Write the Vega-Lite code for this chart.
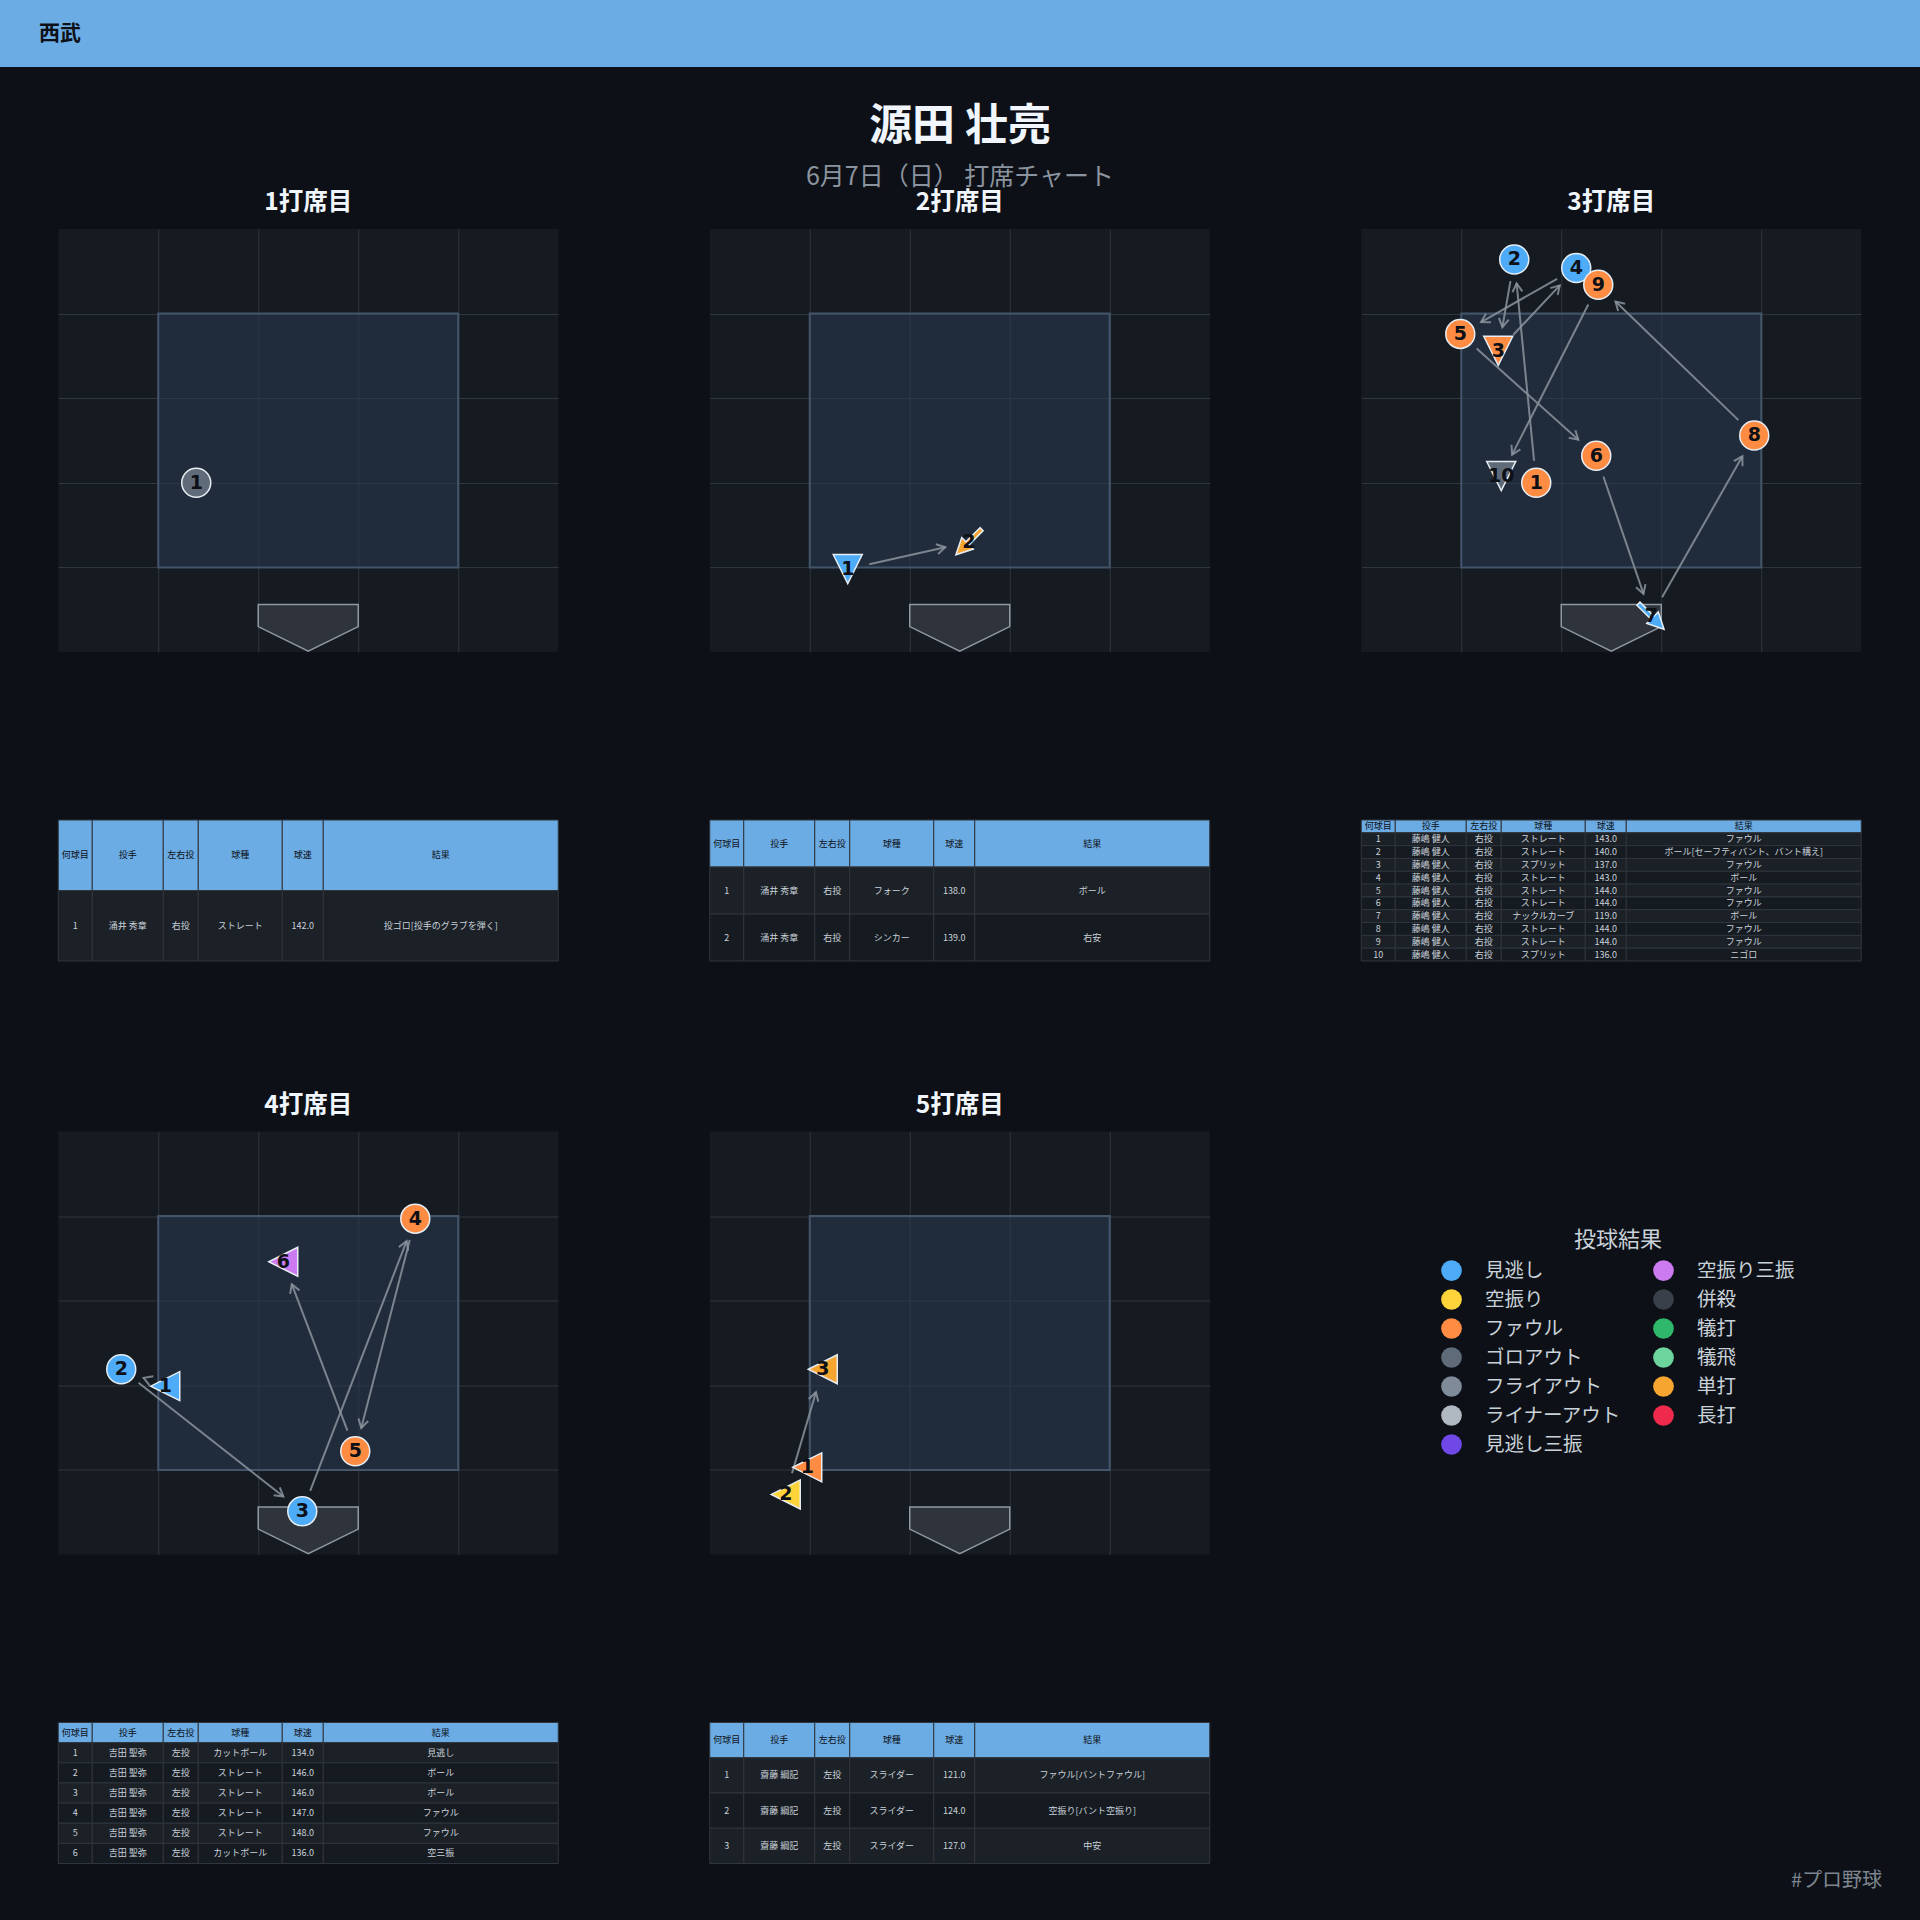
{
"$schema":"https://vega.github.io/schema/vega-lite/v6.json",
"background":"#0d1117",
"padding":0,
"spacing":0,
"center":true,
"config":{
 "font":"Noto Sans CJK JP",
 "view":{"stroke":null},
 "axis":{"labels":false,"ticks":false,"domain":false,"grid":true,"gridColor":"#30363d","gridWidth":1},
 "title":{"font":"Noto Sans CJK JP","fontSize":24.5,"fontWeight":"bold","color":"#f0f6fc","offset":13.5,"anchor":"middle"},
 "legend":{"symbolType":"circle","symbolSize":430,"symbolStrokeWidth":0,"symbolOpacity":1,"labelFont":"Noto Sans CJK JP","labelFontSize":19.5,"labelColor":"#c9d1d9","labelOffset":23,"titleFont":"Noto Sans CJK JP","titleFontSize":22,"titleFontWeight":"normal","titleColor":"#c9d1d9","titleAnchor":"middle","titlePadding":8,"rowPadding":8,"columnPadding":31,"padding":0,"labelLimit":300}
},
"datasets":{
 "plate":[{"px":2,"top":0.56,"bot":0.3},{"px":2.5,"top":0.56,"bot":0.01},{"px":3,"top":0.56,"bot":0.3}],
 "ab1":[{"n":1,"x":1.38,"y":2.0,"result":"ゴロアウト","pitch":"ストレート"}],
 "ab2":[{"n":1,"x":1.38,"y":0.98,"result":"ボール","pitch":"フォーク"},{"n":2,"x":2.59,"y":1.3,"result":"単打","pitch":"シンカー"}],
 "ab3":[
  {"n":1,"x":1.75,"y":2.0,"result":"ファウル","pitch":"ストレート"},
  {"n":2,"x":1.53,"y":4.64,"result":"ボール","pitch":"ストレート"},
  {"n":3,"x":1.37,"y":3.56,"result":"ファウル","pitch":"スプリット"},
  {"n":4,"x":2.15,"y":4.54,"result":"ボール","pitch":"ストレート"},
  {"n":5,"x":0.99,"y":3.76,"result":"ファウル","pitch":"ストレート"},
  {"n":6,"x":2.35,"y":2.32,"result":"ファウル","pitch":"ストレート"},
  {"n":7,"x":2.9,"y":0.42,"result":"ボール","pitch":"ナックルカーブ"},
  {"n":8,"x":3.93,"y":2.56,"result":"ファウル","pitch":"ストレート"},
  {"n":9,"x":2.37,"y":4.34,"result":"ファウル","pitch":"ストレート"},
  {"n":10,"x":1.4,"y":2.08,"result":"ゴロアウト","pitch":"スプリット"}],
 "ab4":[
  {"n":1,"x":1.07,"y":1.99,"result":"見逃し","pitch":"カットボール"},
  {"n":2,"x":0.63,"y":2.19,"result":"ボール","pitch":"ストレート"},
  {"n":3,"x":2.44,"y":0.51,"result":"ボール","pitch":"ストレート"},
  {"n":4,"x":3.57,"y":3.97,"result":"ファウル","pitch":"ストレート"},
  {"n":5,"x":2.97,"y":1.22,"result":"ファウル","pitch":"ストレート"},
  {"n":6,"x":2.25,"y":3.46,"result":"空振り三振","pitch":"カットボール"}],
 "ab5":[
  {"n":1,"x":0.975,"y":1.03,"result":"ファウル","pitch":"スライダー"},
  {"n":2,"x":0.76,"y":0.71,"result":"空振り","pitch":"スライダー"},
  {"n":3,"x":1.13,"y":2.19,"result":"単打","pitch":"スライダー"}],
 "t1":[
  {"r":0,"no":"何球目","pitcher":"投手","hand":"左右投","type":"球種","speed":"球速","result":"結果"},
  {"r":1,"no":"1","pitcher":"涌井 秀章","hand":"右投","type":"ストレート","speed":"142.0","result":"投ゴロ[投手のグラブを弾く]"}],
 "t2":[
  {"r":0,"no":"何球目","pitcher":"投手","hand":"左右投","type":"球種","speed":"球速","result":"結果"},
  {"r":1,"no":"1","pitcher":"涌井 秀章","hand":"右投","type":"フォーク","speed":"138.0","result":"ボール"},
  {"r":2,"no":"2","pitcher":"涌井 秀章","hand":"右投","type":"シンカー","speed":"139.0","result":"右安"}],
 "t3":[
  {"r":0,"no":"何球目","pitcher":"投手","hand":"左右投","type":"球種","speed":"球速","result":"結果"},
  {"r":1,"no":"1","pitcher":"藤嶋 健人","hand":"右投","type":"ストレート","speed":"143.0","result":"ファウル"},
  {"r":2,"no":"2","pitcher":"藤嶋 健人","hand":"右投","type":"ストレート","speed":"140.0","result":"ボール[セーフティバント、バント構え]"},
  {"r":3,"no":"3","pitcher":"藤嶋 健人","hand":"右投","type":"スプリット","speed":"137.0","result":"ファウル"},
  {"r":4,"no":"4","pitcher":"藤嶋 健人","hand":"右投","type":"ストレート","speed":"143.0","result":"ボール"},
  {"r":5,"no":"5","pitcher":"藤嶋 健人","hand":"右投","type":"ストレート","speed":"144.0","result":"ファウル"},
  {"r":6,"no":"6","pitcher":"藤嶋 健人","hand":"右投","type":"ストレート","speed":"144.0","result":"ファウル"},
  {"r":7,"no":"7","pitcher":"藤嶋 健人","hand":"右投","type":"ナックルカーブ","speed":"119.0","result":"ボール"},
  {"r":8,"no":"8","pitcher":"藤嶋 健人","hand":"右投","type":"ストレート","speed":"144.0","result":"ファウル"},
  {"r":9,"no":"9","pitcher":"藤嶋 健人","hand":"右投","type":"ストレート","speed":"144.0","result":"ファウル"},
  {"r":10,"no":"10","pitcher":"藤嶋 健人","hand":"右投","type":"スプリット","speed":"136.0","result":"ニゴロ"}],
 "t4":[
  {"r":0,"no":"何球目","pitcher":"投手","hand":"左右投","type":"球種","speed":"球速","result":"結果"},
  {"r":1,"no":"1","pitcher":"吉田 聖弥","hand":"左投","type":"カットボール","speed":"134.0","result":"見逃し"},
  {"r":2,"no":"2","pitcher":"吉田 聖弥","hand":"左投","type":"ストレート","speed":"146.0","result":"ボール"},
  {"r":3,"no":"3","pitcher":"吉田 聖弥","hand":"左投","type":"ストレート","speed":"146.0","result":"ボール"},
  {"r":4,"no":"4","pitcher":"吉田 聖弥","hand":"左投","type":"ストレート","speed":"147.0","result":"ファウル"},
  {"r":5,"no":"5","pitcher":"吉田 聖弥","hand":"左投","type":"ストレート","speed":"148.0","result":"ファウル"},
  {"r":6,"no":"6","pitcher":"吉田 聖弥","hand":"左投","type":"カットボール","speed":"136.0","result":"空三振"}],
 "t5":[
  {"r":0,"no":"何球目","pitcher":"投手","hand":"左右投","type":"球種","speed":"球速","result":"結果"},
  {"r":1,"no":"1","pitcher":"齋藤 綱記","hand":"左投","type":"スライダー","speed":"121.0","result":"ファウル[バントファウル]"},
  {"r":2,"no":"2","pitcher":"齋藤 綱記","hand":"左投","type":"スライダー","speed":"124.0","result":"空振り[バント空振り]"},
  {"r":3,"no":"3","pitcher":"齋藤 綱記","hand":"左投","type":"スライダー","speed":"127.0","result":"中安"}]
},
"vconcat":[
 {"width":1920,"height":67,"view":{"fill":"#6cace4"},"title":{"text":"西武","anchor":"start","orient":"top","offset":-44,"dx":39,"fontSize":21,"fontWeight":"bold","color":"#0d1117"},"data":{"values":[{}]},"mark":{"type":"text"},"encoding":{"text":{"value":""}}},
 {"width":1920,"height":123,"title":{"text":"源田 壮亮","subtitle":"6月7日（日） 打席チャート","anchor":"middle","orient":"top","offset":-123,"fontSize":43,"fontWeight":"bold","color":"#f0f6fc","subtitleFont":"Noto Sans CJK JP","subtitleFontSize":25,"subtitleColor":"#8b949e","subtitlePadding":16},"data":{"values":[{}]},"mark":{"type":"text"},"encoding":{"text":{"value":""}}},
 {"vconcat":[
  {"hconcat":[
   {"vconcat":[
    {"width":500,"height":423,"view":{"fill":"#161b22"},"title":"1打席目","layer":[
     {"data":{"values":[{}]},"mark":{"type":"rect","fill":"#2a3b52","fillOpacity":0.55,"stroke":"#42556b","strokeWidth":2},"encoding":{"x":{"datum":1,"type":"quantitative","scale":{"domain":[0,5],"nice":false,"zero":false},"axis":{"values":[1,2,3,4],"title":null}},"x2":{"datum":4},"y":{"datum":1,"type":"quantitative","scale":{"domain":[0,5],"nice":false,"zero":false},"axis":{"values":[1,2,3,4],"title":null}},"y2":{"datum":4}}},
     {"data":{"name":"plate"},"mark":{"type":"area","fill":"#2f343c","stroke":"#9198a1","strokeWidth":1.5},"encoding":{"x":{"field":"px","type":"quantitative","scale":{"domain":[0,5],"nice":false,"zero":false},"axis":{"values":[1,2,3,4],"title":null}},"y":{"field":"top","type":"quantitative","scale":{"domain":[0,5],"nice":false,"zero":false},"axis":{"values":[1,2,3,4],"title":null}},"y2":{"field":"bot"}}},
     {"data":{"name":"ab1"},"mark":{"type":"point","filled":true,"size":840,"stroke":"#e6edf3","strokeWidth":1.5,"opacity":1},"encoding":{"x":{"field":"x","type":"quantitative","scale":{"domain":[0,5],"nice":false,"zero":false},"axis":{"values":[1,2,3,4],"title":null}},"y":{"field":"y","type":"quantitative","scale":{"domain":[0,5],"nice":false,"zero":false},"axis":{"values":[1,2,3,4],"title":null}},"color":{"field":"result","type":"nominal","scale":{"domain":["見逃し","空振り","ファウル","ゴロアウト","フライアウト","ライナーアウト","見逃し三振","空振り三振","併殺","犠打","犠飛","単打","長打","ボール"],"range":["#4dabf7","#ffd43b","#ff8c42","#5f6b78","#7f8b98","#b0b8c2","#7048e8","#cc7af0","#3a404a","#2fb86b","#6ed49e","#f7a531","#f02a4c","#4dabf7"]},"legend":{"values":["見逃し","空振り","ファウル","ゴロアウト","フライアウト","ライナーアウト","見逃し三振","空振り三振","併殺","犠打","犠飛","単打","長打"],"orient":"none","legendX":1441,"legendY":1230,"columns":2,"title":"投球結果"}},"shape":{"field":"pitch","type":"nominal","scale":{"domain":["ストレート","スプリット","フォーク","カットボール","スライダー","ナックルカーブ","シンカー"],"range":["circle","M-1,-1L1,-1L0,1Z","M-1,-1L1,-1L0,1Z","M1,-1L1,1L-1,0Z","M1,-1L1,1L-1,0Z","M-0.78,-0.99L0.195,-0.018L0.486,-0.309L0.884,0.884L-0.309,0.486L-0.018,0.195L-0.99,-0.78Z","M0.78,-0.99L-0.195,-0.018L-0.486,-0.309L-0.884,0.884L0.309,0.486L0.018,0.195L0.99,-0.78Z"]},"legend":null}}},
     {"data":{"name":"ab1"},"mark":{"type":"text","font":"DejaVu Sans","fontSize":19,"fontWeight":"bold","color":"#0d1117"},"encoding":{"x":{"field":"x","type":"quantitative","scale":{"domain":[0,5],"nice":false,"zero":false},"axis":{"values":[1,2,3,4],"title":null}},"y":{"field":"y","type":"quantitative","scale":{"domain":[0,5],"nice":false,"zero":false},"axis":{"values":[1,2,3,4],"title":null}},"text":{"field":"n","type":"nominal"}}}
    ]},
    {"hconcat":[
     {"width":34,"height":141,"data":{"name":"t1"},"encoding":{"y":{"field":"r","type":"ordinal","axis":null,"scale":{"paddingInner":0,"paddingOuter":0}}},"layer":[{"mark":{"type":"rect","stroke":"#30363d","strokeWidth":1},"encoding":{"fill":{"condition":[{"test":"datum.r == 0","value":"#6cace4"},{"test":"datum.r % 2 == 1","value":"#1c2128"}],"value":"#161b22"}}},{"mark":{"type":"text","fontSize":9},"encoding":{"text":{"field":"no","type":"nominal"},"color":{"condition":{"test":"datum.r == 0","value":"#0d1117"},"value":"#c9d1d9"}}}]},
     {"width":71,"height":141,"data":{"name":"t1"},"encoding":{"y":{"field":"r","type":"ordinal","axis":null,"scale":{"paddingInner":0,"paddingOuter":0}}},"layer":[{"mark":{"type":"rect","stroke":"#30363d","strokeWidth":1},"encoding":{"fill":{"condition":[{"test":"datum.r == 0","value":"#6cace4"},{"test":"datum.r % 2 == 1","value":"#1c2128"}],"value":"#161b22"}}},{"mark":{"type":"text","fontSize":9},"encoding":{"text":{"field":"pitcher","type":"nominal"},"color":{"condition":{"test":"datum.r == 0","value":"#0d1117"},"value":"#c9d1d9"}}}]},
     {"width":35,"height":141,"data":{"name":"t1"},"encoding":{"y":{"field":"r","type":"ordinal","axis":null,"scale":{"paddingInner":0,"paddingOuter":0}}},"layer":[{"mark":{"type":"rect","stroke":"#30363d","strokeWidth":1},"encoding":{"fill":{"condition":[{"test":"datum.r == 0","value":"#6cace4"},{"test":"datum.r % 2 == 1","value":"#1c2128"}],"value":"#161b22"}}},{"mark":{"type":"text","fontSize":9},"encoding":{"text":{"field":"hand","type":"nominal"},"color":{"condition":{"test":"datum.r == 0","value":"#0d1117"},"value":"#c9d1d9"}}}]},
     {"width":84,"height":141,"data":{"name":"t1"},"encoding":{"y":{"field":"r","type":"ordinal","axis":null,"scale":{"paddingInner":0,"paddingOuter":0}}},"layer":[{"mark":{"type":"rect","stroke":"#30363d","strokeWidth":1},"encoding":{"fill":{"condition":[{"test":"datum.r == 0","value":"#6cace4"},{"test":"datum.r % 2 == 1","value":"#1c2128"}],"value":"#161b22"}}},{"mark":{"type":"text","fontSize":9},"encoding":{"text":{"field":"type","type":"nominal"},"color":{"condition":{"test":"datum.r == 0","value":"#0d1117"},"value":"#c9d1d9"}}}]},
     {"width":41,"height":141,"data":{"name":"t1"},"encoding":{"y":{"field":"r","type":"ordinal","axis":null,"scale":{"paddingInner":0,"paddingOuter":0}}},"layer":[{"mark":{"type":"rect","stroke":"#30363d","strokeWidth":1},"encoding":{"fill":{"condition":[{"test":"datum.r == 0","value":"#6cace4"},{"test":"datum.r % 2 == 1","value":"#1c2128"}],"value":"#161b22"}}},{"mark":{"type":"text","fontSize":9},"encoding":{"text":{"field":"speed","type":"nominal"},"color":{"condition":{"test":"datum.r == 0","value":"#0d1117"},"value":"#c9d1d9"}}}]},
     {"width":235,"height":141,"data":{"name":"t1"},"encoding":{"y":{"field":"r","type":"ordinal","axis":null,"scale":{"paddingInner":0,"paddingOuter":0}}},"layer":[{"mark":{"type":"rect","stroke":"#30363d","strokeWidth":1},"encoding":{"fill":{"condition":[{"test":"datum.r == 0","value":"#6cace4"},{"test":"datum.r % 2 == 1","value":"#1c2128"}],"value":"#161b22"}}},{"mark":{"type":"text","fontSize":9},"encoding":{"text":{"field":"result","type":"nominal"},"color":{"condition":{"test":"datum.r == 0","value":"#0d1117"},"value":"#c9d1d9"}}}]}
    ],"spacing":0,"bounds":"flush"}
   ],"spacing":164},
   {"vconcat":[
    {"width":500,"height":423,"view":{"fill":"#161b22"},"title":"2打席目","layer":[
     {"data":{"values":[{}]},"mark":{"type":"rect","fill":"#2a3b52","fillOpacity":0.55,"stroke":"#42556b","strokeWidth":2},"encoding":{"x":{"datum":1,"type":"quantitative","scale":{"domain":[0,5],"nice":false,"zero":false},"axis":{"values":[1,2,3,4],"title":null}},"x2":{"datum":4},"y":{"datum":1,"type":"quantitative","scale":{"domain":[0,5],"nice":false,"zero":false},"axis":{"values":[1,2,3,4],"title":null}},"y2":{"datum":4}}},
     {"data":{"name":"plate"},"mark":{"type":"area","fill":"#2f343c","stroke":"#9198a1","strokeWidth":1.5},"encoding":{"x":{"field":"px","type":"quantitative","scale":{"domain":[0,5],"nice":false,"zero":false},"axis":{"values":[1,2,3,4],"title":null}},"y":{"field":"top","type":"quantitative","scale":{"domain":[0,5],"nice":false,"zero":false},"axis":{"values":[1,2,3,4],"title":null}},"y2":{"field":"bot"}}},
     {"data":{"name":"ab2"},"transform":[{"window":[{"op":"lead","field":"x","as":"nx"},{"op":"lead","field":"y","as":"ny"}],"sort":[{"field":"n","order":"ascending"}]},{"filter":"datum.nx != null"},{"calculate":"(datum.nx - datum.x) * 100","as":"dxp"},{"calculate":"(datum.ny - datum.y) * 84.6","as":"dyp"},{"calculate":"sqrt(datum.dxp * datum.dxp + datum.dyp * datum.dyp)","as":"len"},{"filter":"datum.len > 46"},{"calculate":"datum.x + datum.dxp / datum.len * 0.22","as":"xs"},{"calculate":"datum.y + datum.dyp / datum.len * 0.26","as":"ys"},{"calculate":"datum.nx - datum.dxp / datum.len * 0.24","as":"xe"},{"calculate":"datum.ny - datum.dyp / datum.len * 0.2837","as":"ye"},{"calculate":"atan2(datum.dxp, datum.dyp) * 180 / PI","as":"ang"}],"layer":[
      {"mark":{"type":"rule","color":"#8b949e","strokeWidth":2,"opacity":0.85},"encoding":{"x":{"field":"xs","type":"quantitative","scale":{"domain":[0,5],"nice":false,"zero":false},"axis":{"values":[1,2,3,4],"title":null}},"y":{"field":"ys","type":"quantitative","scale":{"domain":[0,5],"nice":false,"zero":false},"axis":{"values":[1,2,3,4],"title":null}},"x2":{"field":"xe"},"y2":{"field":"ye"}}},
      {"mark":{"type":"point","shape":"M-0.5,0.85L0,0L0.5,0.85","filled":false,"size":400,"color":"#8b949e","strokeWidth":2,"opacity":0.85},"encoding":{"x":{"field":"xe","type":"quantitative","scale":{"domain":[0,5],"nice":false,"zero":false},"axis":{"values":[1,2,3,4],"title":null}},"y":{"field":"ye","type":"quantitative","scale":{"domain":[0,5],"nice":false,"zero":false},"axis":{"values":[1,2,3,4],"title":null}},"angle":{"field":"ang","type":"quantitative","scale":null}}}
     ]},
     {"data":{"name":"ab2"},"mark":{"type":"point","filled":true,"size":840,"stroke":"#e6edf3","strokeWidth":1.5,"opacity":1},"encoding":{"x":{"field":"x","type":"quantitative","scale":{"domain":[0,5],"nice":false,"zero":false},"axis":{"values":[1,2,3,4],"title":null}},"y":{"field":"y","type":"quantitative","scale":{"domain":[0,5],"nice":false,"zero":false},"axis":{"values":[1,2,3,4],"title":null}},"color":{"field":"result","type":"nominal","scale":{"domain":["見逃し","空振り","ファウル","ゴロアウト","フライアウト","ライナーアウト","見逃し三振","空振り三振","併殺","犠打","犠飛","単打","長打","ボール"],"range":["#4dabf7","#ffd43b","#ff8c42","#5f6b78","#7f8b98","#b0b8c2","#7048e8","#cc7af0","#3a404a","#2fb86b","#6ed49e","#f7a531","#f02a4c","#4dabf7"]},"legend":{"values":["見逃し","空振り","ファウル","ゴロアウト","フライアウト","ライナーアウト","見逃し三振","空振り三振","併殺","犠打","犠飛","単打","長打"],"orient":"none","legendX":1441,"legendY":1230,"columns":2,"title":"投球結果"}},"shape":{"field":"pitch","type":"nominal","scale":{"domain":["ストレート","スプリット","フォーク","カットボール","スライダー","ナックルカーブ","シンカー"],"range":["circle","M-1,-1L1,-1L0,1Z","M-1,-1L1,-1L0,1Z","M1,-1L1,1L-1,0Z","M1,-1L1,1L-1,0Z","M-0.78,-0.99L0.195,-0.018L0.486,-0.309L0.884,0.884L-0.309,0.486L-0.018,0.195L-0.99,-0.78Z","M0.78,-0.99L-0.195,-0.018L-0.486,-0.309L-0.884,0.884L0.309,0.486L0.018,0.195L0.99,-0.78Z"]},"legend":null}}},
     {"data":{"name":"ab2"},"mark":{"type":"text","font":"DejaVu Sans","fontSize":19,"fontWeight":"bold","color":"#0d1117"},"encoding":{"x":{"field":"x","type":"quantitative","scale":{"domain":[0,5],"nice":false,"zero":false},"axis":{"values":[1,2,3,4],"title":null}},"y":{"field":"y","type":"quantitative","scale":{"domain":[0,5],"nice":false,"zero":false},"axis":{"values":[1,2,3,4],"title":null}},"text":{"field":"n","type":"nominal"}}}
    ]},
    {"hconcat":[
     {"width":34,"height":141,"data":{"name":"t2"},"encoding":{"y":{"field":"r","type":"ordinal","axis":null,"scale":{"paddingInner":0,"paddingOuter":0}}},"layer":[{"mark":{"type":"rect","stroke":"#30363d","strokeWidth":1},"encoding":{"fill":{"condition":[{"test":"datum.r == 0","value":"#6cace4"},{"test":"datum.r % 2 == 1","value":"#1c2128"}],"value":"#161b22"}}},{"mark":{"type":"text","fontSize":9},"encoding":{"text":{"field":"no","type":"nominal"},"color":{"condition":{"test":"datum.r == 0","value":"#0d1117"},"value":"#c9d1d9"}}}]},
     {"width":71,"height":141,"data":{"name":"t2"},"encoding":{"y":{"field":"r","type":"ordinal","axis":null,"scale":{"paddingInner":0,"paddingOuter":0}}},"layer":[{"mark":{"type":"rect","stroke":"#30363d","strokeWidth":1},"encoding":{"fill":{"condition":[{"test":"datum.r == 0","value":"#6cace4"},{"test":"datum.r % 2 == 1","value":"#1c2128"}],"value":"#161b22"}}},{"mark":{"type":"text","fontSize":9},"encoding":{"text":{"field":"pitcher","type":"nominal"},"color":{"condition":{"test":"datum.r == 0","value":"#0d1117"},"value":"#c9d1d9"}}}]},
     {"width":35,"height":141,"data":{"name":"t2"},"encoding":{"y":{"field":"r","type":"ordinal","axis":null,"scale":{"paddingInner":0,"paddingOuter":0}}},"layer":[{"mark":{"type":"rect","stroke":"#30363d","strokeWidth":1},"encoding":{"fill":{"condition":[{"test":"datum.r == 0","value":"#6cace4"},{"test":"datum.r % 2 == 1","value":"#1c2128"}],"value":"#161b22"}}},{"mark":{"type":"text","fontSize":9},"encoding":{"text":{"field":"hand","type":"nominal"},"color":{"condition":{"test":"datum.r == 0","value":"#0d1117"},"value":"#c9d1d9"}}}]},
     {"width":84,"height":141,"data":{"name":"t2"},"encoding":{"y":{"field":"r","type":"ordinal","axis":null,"scale":{"paddingInner":0,"paddingOuter":0}}},"layer":[{"mark":{"type":"rect","stroke":"#30363d","strokeWidth":1},"encoding":{"fill":{"condition":[{"test":"datum.r == 0","value":"#6cace4"},{"test":"datum.r % 2 == 1","value":"#1c2128"}],"value":"#161b22"}}},{"mark":{"type":"text","fontSize":9},"encoding":{"text":{"field":"type","type":"nominal"},"color":{"condition":{"test":"datum.r == 0","value":"#0d1117"},"value":"#c9d1d9"}}}]},
     {"width":41,"height":141,"data":{"name":"t2"},"encoding":{"y":{"field":"r","type":"ordinal","axis":null,"scale":{"paddingInner":0,"paddingOuter":0}}},"layer":[{"mark":{"type":"rect","stroke":"#30363d","strokeWidth":1},"encoding":{"fill":{"condition":[{"test":"datum.r == 0","value":"#6cace4"},{"test":"datum.r % 2 == 1","value":"#1c2128"}],"value":"#161b22"}}},{"mark":{"type":"text","fontSize":9},"encoding":{"text":{"field":"speed","type":"nominal"},"color":{"condition":{"test":"datum.r == 0","value":"#0d1117"},"value":"#c9d1d9"}}}]},
     {"width":235,"height":141,"data":{"name":"t2"},"encoding":{"y":{"field":"r","type":"ordinal","axis":null,"scale":{"paddingInner":0,"paddingOuter":0}}},"layer":[{"mark":{"type":"rect","stroke":"#30363d","strokeWidth":1},"encoding":{"fill":{"condition":[{"test":"datum.r == 0","value":"#6cace4"},{"test":"datum.r % 2 == 1","value":"#1c2128"}],"value":"#161b22"}}},{"mark":{"type":"text","fontSize":9},"encoding":{"text":{"field":"result","type":"nominal"},"color":{"condition":{"test":"datum.r == 0","value":"#0d1117"},"value":"#c9d1d9"}}}]}
    ],"spacing":0,"bounds":"flush"}
   ],"spacing":164},
   {"vconcat":[
    {"width":500,"height":423,"view":{"fill":"#161b22"},"title":"3打席目","layer":[
     {"data":{"values":[{}]},"mark":{"type":"rect","fill":"#2a3b52","fillOpacity":0.55,"stroke":"#42556b","strokeWidth":2},"encoding":{"x":{"datum":1,"type":"quantitative","scale":{"domain":[0,5],"nice":false,"zero":false},"axis":{"values":[1,2,3,4],"title":null}},"x2":{"datum":4},"y":{"datum":1,"type":"quantitative","scale":{"domain":[0,5],"nice":false,"zero":false},"axis":{"values":[1,2,3,4],"title":null}},"y2":{"datum":4}}},
     {"data":{"name":"plate"},"mark":{"type":"area","fill":"#2f343c","stroke":"#9198a1","strokeWidth":1.5},"encoding":{"x":{"field":"px","type":"quantitative","scale":{"domain":[0,5],"nice":false,"zero":false},"axis":{"values":[1,2,3,4],"title":null}},"y":{"field":"top","type":"quantitative","scale":{"domain":[0,5],"nice":false,"zero":false},"axis":{"values":[1,2,3,4],"title":null}},"y2":{"field":"bot"}}},
     {"data":{"name":"ab3"},"transform":[{"window":[{"op":"lead","field":"x","as":"nx"},{"op":"lead","field":"y","as":"ny"}],"sort":[{"field":"n","order":"ascending"}]},{"filter":"datum.nx != null"},{"calculate":"(datum.nx - datum.x) * 100","as":"dxp"},{"calculate":"(datum.ny - datum.y) * 84.6","as":"dyp"},{"calculate":"sqrt(datum.dxp * datum.dxp + datum.dyp * datum.dyp)","as":"len"},{"filter":"datum.len > 46"},{"calculate":"datum.x + datum.dxp / datum.len * 0.22","as":"xs"},{"calculate":"datum.y + datum.dyp / datum.len * 0.26","as":"ys"},{"calculate":"datum.nx - datum.dxp / datum.len * 0.24","as":"xe"},{"calculate":"datum.ny - datum.dyp / datum.len * 0.2837","as":"ye"},{"calculate":"atan2(datum.dxp, datum.dyp) * 180 / PI","as":"ang"}],"layer":[
      {"mark":{"type":"rule","color":"#8b949e","strokeWidth":2,"opacity":0.85},"encoding":{"x":{"field":"xs","type":"quantitative","scale":{"domain":[0,5],"nice":false,"zero":false},"axis":{"values":[1,2,3,4],"title":null}},"y":{"field":"ys","type":"quantitative","scale":{"domain":[0,5],"nice":false,"zero":false},"axis":{"values":[1,2,3,4],"title":null}},"x2":{"field":"xe"},"y2":{"field":"ye"}}},
      {"mark":{"type":"point","shape":"M-0.5,0.85L0,0L0.5,0.85","filled":false,"size":400,"color":"#8b949e","strokeWidth":2,"opacity":0.85},"encoding":{"x":{"field":"xe","type":"quantitative","scale":{"domain":[0,5],"nice":false,"zero":false},"axis":{"values":[1,2,3,4],"title":null}},"y":{"field":"ye","type":"quantitative","scale":{"domain":[0,5],"nice":false,"zero":false},"axis":{"values":[1,2,3,4],"title":null}},"angle":{"field":"ang","type":"quantitative","scale":null}}}
     ]},
     {"data":{"name":"ab3"},"mark":{"type":"point","filled":true,"size":840,"stroke":"#e6edf3","strokeWidth":1.5,"opacity":1},"encoding":{"x":{"field":"x","type":"quantitative","scale":{"domain":[0,5],"nice":false,"zero":false},"axis":{"values":[1,2,3,4],"title":null}},"y":{"field":"y","type":"quantitative","scale":{"domain":[0,5],"nice":false,"zero":false},"axis":{"values":[1,2,3,4],"title":null}},"color":{"field":"result","type":"nominal","scale":{"domain":["見逃し","空振り","ファウル","ゴロアウト","フライアウト","ライナーアウト","見逃し三振","空振り三振","併殺","犠打","犠飛","単打","長打","ボール"],"range":["#4dabf7","#ffd43b","#ff8c42","#5f6b78","#7f8b98","#b0b8c2","#7048e8","#cc7af0","#3a404a","#2fb86b","#6ed49e","#f7a531","#f02a4c","#4dabf7"]},"legend":{"values":["見逃し","空振り","ファウル","ゴロアウト","フライアウト","ライナーアウト","見逃し三振","空振り三振","併殺","犠打","犠飛","単打","長打"],"orient":"none","legendX":1441,"legendY":1230,"columns":2,"title":"投球結果"}},"shape":{"field":"pitch","type":"nominal","scale":{"domain":["ストレート","スプリット","フォーク","カットボール","スライダー","ナックルカーブ","シンカー"],"range":["circle","M-1,-1L1,-1L0,1Z","M-1,-1L1,-1L0,1Z","M1,-1L1,1L-1,0Z","M1,-1L1,1L-1,0Z","M-0.78,-0.99L0.195,-0.018L0.486,-0.309L0.884,0.884L-0.309,0.486L-0.018,0.195L-0.99,-0.78Z","M0.78,-0.99L-0.195,-0.018L-0.486,-0.309L-0.884,0.884L0.309,0.486L0.018,0.195L0.99,-0.78Z"]},"legend":null}}},
     {"data":{"name":"ab3"},"mark":{"type":"text","font":"DejaVu Sans","fontSize":19,"fontWeight":"bold","color":"#0d1117"},"encoding":{"x":{"field":"x","type":"quantitative","scale":{"domain":[0,5],"nice":false,"zero":false},"axis":{"values":[1,2,3,4],"title":null}},"y":{"field":"y","type":"quantitative","scale":{"domain":[0,5],"nice":false,"zero":false},"axis":{"values":[1,2,3,4],"title":null}},"text":{"field":"n","type":"nominal"}}}
    ]},
    {"hconcat":[
     {"width":34,"height":141,"data":{"name":"t3"},"encoding":{"y":{"field":"r","type":"ordinal","axis":null,"scale":{"paddingInner":0,"paddingOuter":0}}},"layer":[{"mark":{"type":"rect","stroke":"#30363d","strokeWidth":1},"encoding":{"fill":{"condition":[{"test":"datum.r == 0","value":"#6cace4"},{"test":"datum.r % 2 == 1","value":"#1c2128"}],"value":"#161b22"}}},{"mark":{"type":"text","fontSize":9},"encoding":{"text":{"field":"no","type":"nominal"},"color":{"condition":{"test":"datum.r == 0","value":"#0d1117"},"value":"#c9d1d9"}}}]},
     {"width":71,"height":141,"data":{"name":"t3"},"encoding":{"y":{"field":"r","type":"ordinal","axis":null,"scale":{"paddingInner":0,"paddingOuter":0}}},"layer":[{"mark":{"type":"rect","stroke":"#30363d","strokeWidth":1},"encoding":{"fill":{"condition":[{"test":"datum.r == 0","value":"#6cace4"},{"test":"datum.r % 2 == 1","value":"#1c2128"}],"value":"#161b22"}}},{"mark":{"type":"text","fontSize":9},"encoding":{"text":{"field":"pitcher","type":"nominal"},"color":{"condition":{"test":"datum.r == 0","value":"#0d1117"},"value":"#c9d1d9"}}}]},
     {"width":35,"height":141,"data":{"name":"t3"},"encoding":{"y":{"field":"r","type":"ordinal","axis":null,"scale":{"paddingInner":0,"paddingOuter":0}}},"layer":[{"mark":{"type":"rect","stroke":"#30363d","strokeWidth":1},"encoding":{"fill":{"condition":[{"test":"datum.r == 0","value":"#6cace4"},{"test":"datum.r % 2 == 1","value":"#1c2128"}],"value":"#161b22"}}},{"mark":{"type":"text","fontSize":9},"encoding":{"text":{"field":"hand","type":"nominal"},"color":{"condition":{"test":"datum.r == 0","value":"#0d1117"},"value":"#c9d1d9"}}}]},
     {"width":84,"height":141,"data":{"name":"t3"},"encoding":{"y":{"field":"r","type":"ordinal","axis":null,"scale":{"paddingInner":0,"paddingOuter":0}}},"layer":[{"mark":{"type":"rect","stroke":"#30363d","strokeWidth":1},"encoding":{"fill":{"condition":[{"test":"datum.r == 0","value":"#6cace4"},{"test":"datum.r % 2 == 1","value":"#1c2128"}],"value":"#161b22"}}},{"mark":{"type":"text","fontSize":9},"encoding":{"text":{"field":"type","type":"nominal"},"color":{"condition":{"test":"datum.r == 0","value":"#0d1117"},"value":"#c9d1d9"}}}]},
     {"width":41,"height":141,"data":{"name":"t3"},"encoding":{"y":{"field":"r","type":"ordinal","axis":null,"scale":{"paddingInner":0,"paddingOuter":0}}},"layer":[{"mark":{"type":"rect","stroke":"#30363d","strokeWidth":1},"encoding":{"fill":{"condition":[{"test":"datum.r == 0","value":"#6cace4"},{"test":"datum.r % 2 == 1","value":"#1c2128"}],"value":"#161b22"}}},{"mark":{"type":"text","fontSize":9},"encoding":{"text":{"field":"speed","type":"nominal"},"color":{"condition":{"test":"datum.r == 0","value":"#0d1117"},"value":"#c9d1d9"}}}]},
     {"width":235,"height":141,"data":{"name":"t3"},"encoding":{"y":{"field":"r","type":"ordinal","axis":null,"scale":{"paddingInner":0,"paddingOuter":0}}},"layer":[{"mark":{"type":"rect","stroke":"#30363d","strokeWidth":1},"encoding":{"fill":{"condition":[{"test":"datum.r == 0","value":"#6cace4"},{"test":"datum.r % 2 == 1","value":"#1c2128"}],"value":"#161b22"}}},{"mark":{"type":"text","fontSize":9},"encoding":{"text":{"field":"result","type":"nominal"},"color":{"condition":{"test":"datum.r == 0","value":"#0d1117"},"value":"#c9d1d9"}}}]}
    ],"spacing":0,"bounds":"flush"}
   ],"spacing":164}
  ],"spacing":149.5},
  {"hconcat":[
   {"vconcat":[
    {"width":500,"height":423,"view":{"fill":"#161b22"},"title":"4打席目","layer":[
     {"data":{"values":[{}]},"mark":{"type":"rect","fill":"#2a3b52","fillOpacity":0.55,"stroke":"#42556b","strokeWidth":2},"encoding":{"x":{"datum":1,"type":"quantitative","scale":{"domain":[0,5],"nice":false,"zero":false},"axis":{"values":[1,2,3,4],"title":null}},"x2":{"datum":4},"y":{"datum":1,"type":"quantitative","scale":{"domain":[0,5],"nice":false,"zero":false},"axis":{"values":[1,2,3,4],"title":null}},"y2":{"datum":4}}},
     {"data":{"name":"plate"},"mark":{"type":"area","fill":"#2f343c","stroke":"#9198a1","strokeWidth":1.5},"encoding":{"x":{"field":"px","type":"quantitative","scale":{"domain":[0,5],"nice":false,"zero":false},"axis":{"values":[1,2,3,4],"title":null}},"y":{"field":"top","type":"quantitative","scale":{"domain":[0,5],"nice":false,"zero":false},"axis":{"values":[1,2,3,4],"title":null}},"y2":{"field":"bot"}}},
     {"data":{"name":"ab4"},"transform":[{"window":[{"op":"lead","field":"x","as":"nx"},{"op":"lead","field":"y","as":"ny"}],"sort":[{"field":"n","order":"ascending"}]},{"filter":"datum.nx != null"},{"calculate":"(datum.nx - datum.x) * 100","as":"dxp"},{"calculate":"(datum.ny - datum.y) * 84.6","as":"dyp"},{"calculate":"sqrt(datum.dxp * datum.dxp + datum.dyp * datum.dyp)","as":"len"},{"filter":"datum.len > 46"},{"calculate":"datum.x + datum.dxp / datum.len * 0.22","as":"xs"},{"calculate":"datum.y + datum.dyp / datum.len * 0.26","as":"ys"},{"calculate":"datum.nx - datum.dxp / datum.len * 0.24","as":"xe"},{"calculate":"datum.ny - datum.dyp / datum.len * 0.2837","as":"ye"},{"calculate":"atan2(datum.dxp, datum.dyp) * 180 / PI","as":"ang"}],"layer":[
      {"mark":{"type":"rule","color":"#8b949e","strokeWidth":2,"opacity":0.85},"encoding":{"x":{"field":"xs","type":"quantitative","scale":{"domain":[0,5],"nice":false,"zero":false},"axis":{"values":[1,2,3,4],"title":null}},"y":{"field":"ys","type":"quantitative","scale":{"domain":[0,5],"nice":false,"zero":false},"axis":{"values":[1,2,3,4],"title":null}},"x2":{"field":"xe"},"y2":{"field":"ye"}}},
      {"mark":{"type":"point","shape":"M-0.5,0.85L0,0L0.5,0.85","filled":false,"size":400,"color":"#8b949e","strokeWidth":2,"opacity":0.85},"encoding":{"x":{"field":"xe","type":"quantitative","scale":{"domain":[0,5],"nice":false,"zero":false},"axis":{"values":[1,2,3,4],"title":null}},"y":{"field":"ye","type":"quantitative","scale":{"domain":[0,5],"nice":false,"zero":false},"axis":{"values":[1,2,3,4],"title":null}},"angle":{"field":"ang","type":"quantitative","scale":null}}}
     ]},
     {"data":{"name":"ab4"},"mark":{"type":"point","filled":true,"size":840,"stroke":"#e6edf3","strokeWidth":1.5,"opacity":1},"encoding":{"x":{"field":"x","type":"quantitative","scale":{"domain":[0,5],"nice":false,"zero":false},"axis":{"values":[1,2,3,4],"title":null}},"y":{"field":"y","type":"quantitative","scale":{"domain":[0,5],"nice":false,"zero":false},"axis":{"values":[1,2,3,4],"title":null}},"color":{"field":"result","type":"nominal","scale":{"domain":["見逃し","空振り","ファウル","ゴロアウト","フライアウト","ライナーアウト","見逃し三振","空振り三振","併殺","犠打","犠飛","単打","長打","ボール"],"range":["#4dabf7","#ffd43b","#ff8c42","#5f6b78","#7f8b98","#b0b8c2","#7048e8","#cc7af0","#3a404a","#2fb86b","#6ed49e","#f7a531","#f02a4c","#4dabf7"]},"legend":{"values":["見逃し","空振り","ファウル","ゴロアウト","フライアウト","ライナーアウト","見逃し三振","空振り三振","併殺","犠打","犠飛","単打","長打"],"orient":"none","legendX":1441,"legendY":1230,"columns":2,"title":"投球結果"}},"shape":{"field":"pitch","type":"nominal","scale":{"domain":["ストレート","スプリット","フォーク","カットボール","スライダー","ナックルカーブ","シンカー"],"range":["circle","M-1,-1L1,-1L0,1Z","M-1,-1L1,-1L0,1Z","M1,-1L1,1L-1,0Z","M1,-1L1,1L-1,0Z","M-0.78,-0.99L0.195,-0.018L0.486,-0.309L0.884,0.884L-0.309,0.486L-0.018,0.195L-0.99,-0.78Z","M0.78,-0.99L-0.195,-0.018L-0.486,-0.309L-0.884,0.884L0.309,0.486L0.018,0.195L0.99,-0.78Z"]},"legend":null}}},
     {"data":{"name":"ab4"},"mark":{"type":"text","font":"DejaVu Sans","fontSize":19,"fontWeight":"bold","color":"#0d1117"},"encoding":{"x":{"field":"x","type":"quantitative","scale":{"domain":[0,5],"nice":false,"zero":false},"axis":{"values":[1,2,3,4],"title":null}},"y":{"field":"y","type":"quantitative","scale":{"domain":[0,5],"nice":false,"zero":false},"axis":{"values":[1,2,3,4],"title":null}},"text":{"field":"n","type":"nominal"}}}
    ]},
    {"hconcat":[
     {"width":34,"height":141,"data":{"name":"t4"},"encoding":{"y":{"field":"r","type":"ordinal","axis":null,"scale":{"paddingInner":0,"paddingOuter":0}}},"layer":[{"mark":{"type":"rect","stroke":"#30363d","strokeWidth":1},"encoding":{"fill":{"condition":[{"test":"datum.r == 0","value":"#6cace4"},{"test":"datum.r % 2 == 1","value":"#1c2128"}],"value":"#161b22"}}},{"mark":{"type":"text","fontSize":9},"encoding":{"text":{"field":"no","type":"nominal"},"color":{"condition":{"test":"datum.r == 0","value":"#0d1117"},"value":"#c9d1d9"}}}]},
     {"width":71,"height":141,"data":{"name":"t4"},"encoding":{"y":{"field":"r","type":"ordinal","axis":null,"scale":{"paddingInner":0,"paddingOuter":0}}},"layer":[{"mark":{"type":"rect","stroke":"#30363d","strokeWidth":1},"encoding":{"fill":{"condition":[{"test":"datum.r == 0","value":"#6cace4"},{"test":"datum.r % 2 == 1","value":"#1c2128"}],"value":"#161b22"}}},{"mark":{"type":"text","fontSize":9},"encoding":{"text":{"field":"pitcher","type":"nominal"},"color":{"condition":{"test":"datum.r == 0","value":"#0d1117"},"value":"#c9d1d9"}}}]},
     {"width":35,"height":141,"data":{"name":"t4"},"encoding":{"y":{"field":"r","type":"ordinal","axis":null,"scale":{"paddingInner":0,"paddingOuter":0}}},"layer":[{"mark":{"type":"rect","stroke":"#30363d","strokeWidth":1},"encoding":{"fill":{"condition":[{"test":"datum.r == 0","value":"#6cace4"},{"test":"datum.r % 2 == 1","value":"#1c2128"}],"value":"#161b22"}}},{"mark":{"type":"text","fontSize":9},"encoding":{"text":{"field":"hand","type":"nominal"},"color":{"condition":{"test":"datum.r == 0","value":"#0d1117"},"value":"#c9d1d9"}}}]},
     {"width":84,"height":141,"data":{"name":"t4"},"encoding":{"y":{"field":"r","type":"ordinal","axis":null,"scale":{"paddingInner":0,"paddingOuter":0}}},"layer":[{"mark":{"type":"rect","stroke":"#30363d","strokeWidth":1},"encoding":{"fill":{"condition":[{"test":"datum.r == 0","value":"#6cace4"},{"test":"datum.r % 2 == 1","value":"#1c2128"}],"value":"#161b22"}}},{"mark":{"type":"text","fontSize":9},"encoding":{"text":{"field":"type","type":"nominal"},"color":{"condition":{"test":"datum.r == 0","value":"#0d1117"},"value":"#c9d1d9"}}}]},
     {"width":41,"height":141,"data":{"name":"t4"},"encoding":{"y":{"field":"r","type":"ordinal","axis":null,"scale":{"paddingInner":0,"paddingOuter":0}}},"layer":[{"mark":{"type":"rect","stroke":"#30363d","strokeWidth":1},"encoding":{"fill":{"condition":[{"test":"datum.r == 0","value":"#6cace4"},{"test":"datum.r % 2 == 1","value":"#1c2128"}],"value":"#161b22"}}},{"mark":{"type":"text","fontSize":9},"encoding":{"text":{"field":"speed","type":"nominal"},"color":{"condition":{"test":"datum.r == 0","value":"#0d1117"},"value":"#c9d1d9"}}}]},
     {"width":235,"height":141,"data":{"name":"t4"},"encoding":{"y":{"field":"r","type":"ordinal","axis":null,"scale":{"paddingInner":0,"paddingOuter":0}}},"layer":[{"mark":{"type":"rect","stroke":"#30363d","strokeWidth":1},"encoding":{"fill":{"condition":[{"test":"datum.r == 0","value":"#6cace4"},{"test":"datum.r % 2 == 1","value":"#1c2128"}],"value":"#161b22"}}},{"mark":{"type":"text","fontSize":9},"encoding":{"text":{"field":"result","type":"nominal"},"color":{"condition":{"test":"datum.r == 0","value":"#0d1117"},"value":"#c9d1d9"}}}]}
    ],"spacing":0,"bounds":"flush"}
   ],"spacing":164},
   {"vconcat":[
    {"width":500,"height":423,"view":{"fill":"#161b22"},"title":"5打席目","layer":[
     {"data":{"values":[{}]},"mark":{"type":"rect","fill":"#2a3b52","fillOpacity":0.55,"stroke":"#42556b","strokeWidth":2},"encoding":{"x":{"datum":1,"type":"quantitative","scale":{"domain":[0,5],"nice":false,"zero":false},"axis":{"values":[1,2,3,4],"title":null}},"x2":{"datum":4},"y":{"datum":1,"type":"quantitative","scale":{"domain":[0,5],"nice":false,"zero":false},"axis":{"values":[1,2,3,4],"title":null}},"y2":{"datum":4}}},
     {"data":{"name":"plate"},"mark":{"type":"area","fill":"#2f343c","stroke":"#9198a1","strokeWidth":1.5},"encoding":{"x":{"field":"px","type":"quantitative","scale":{"domain":[0,5],"nice":false,"zero":false},"axis":{"values":[1,2,3,4],"title":null}},"y":{"field":"top","type":"quantitative","scale":{"domain":[0,5],"nice":false,"zero":false},"axis":{"values":[1,2,3,4],"title":null}},"y2":{"field":"bot"}}},
     {"data":{"name":"ab5"},"transform":[{"window":[{"op":"lead","field":"x","as":"nx"},{"op":"lead","field":"y","as":"ny"}],"sort":[{"field":"n","order":"ascending"}]},{"filter":"datum.nx != null"},{"calculate":"(datum.nx - datum.x) * 100","as":"dxp"},{"calculate":"(datum.ny - datum.y) * 84.6","as":"dyp"},{"calculate":"sqrt(datum.dxp * datum.dxp + datum.dyp * datum.dyp)","as":"len"},{"filter":"datum.len > 46"},{"calculate":"datum.x + datum.dxp / datum.len * 0.22","as":"xs"},{"calculate":"datum.y + datum.dyp / datum.len * 0.26","as":"ys"},{"calculate":"datum.nx - datum.dxp / datum.len * 0.24","as":"xe"},{"calculate":"datum.ny - datum.dyp / datum.len * 0.2837","as":"ye"},{"calculate":"atan2(datum.dxp, datum.dyp) * 180 / PI","as":"ang"}],"layer":[
      {"mark":{"type":"rule","color":"#8b949e","strokeWidth":2,"opacity":0.85},"encoding":{"x":{"field":"xs","type":"quantitative","scale":{"domain":[0,5],"nice":false,"zero":false},"axis":{"values":[1,2,3,4],"title":null}},"y":{"field":"ys","type":"quantitative","scale":{"domain":[0,5],"nice":false,"zero":false},"axis":{"values":[1,2,3,4],"title":null}},"x2":{"field":"xe"},"y2":{"field":"ye"}}},
      {"mark":{"type":"point","shape":"M-0.5,0.85L0,0L0.5,0.85","filled":false,"size":400,"color":"#8b949e","strokeWidth":2,"opacity":0.85},"encoding":{"x":{"field":"xe","type":"quantitative","scale":{"domain":[0,5],"nice":false,"zero":false},"axis":{"values":[1,2,3,4],"title":null}},"y":{"field":"ye","type":"quantitative","scale":{"domain":[0,5],"nice":false,"zero":false},"axis":{"values":[1,2,3,4],"title":null}},"angle":{"field":"ang","type":"quantitative","scale":null}}}
     ]},
     {"data":{"name":"ab5"},"mark":{"type":"point","filled":true,"size":840,"stroke":"#e6edf3","strokeWidth":1.5,"opacity":1},"encoding":{"x":{"field":"x","type":"quantitative","scale":{"domain":[0,5],"nice":false,"zero":false},"axis":{"values":[1,2,3,4],"title":null}},"y":{"field":"y","type":"quantitative","scale":{"domain":[0,5],"nice":false,"zero":false},"axis":{"values":[1,2,3,4],"title":null}},"color":{"field":"result","type":"nominal","scale":{"domain":["見逃し","空振り","ファウル","ゴロアウト","フライアウト","ライナーアウト","見逃し三振","空振り三振","併殺","犠打","犠飛","単打","長打","ボール"],"range":["#4dabf7","#ffd43b","#ff8c42","#5f6b78","#7f8b98","#b0b8c2","#7048e8","#cc7af0","#3a404a","#2fb86b","#6ed49e","#f7a531","#f02a4c","#4dabf7"]},"legend":{"values":["見逃し","空振り","ファウル","ゴロアウト","フライアウト","ライナーアウト","見逃し三振","空振り三振","併殺","犠打","犠飛","単打","長打"],"orient":"none","legendX":1441,"legendY":1230,"columns":2,"title":"投球結果"}},"shape":{"field":"pitch","type":"nominal","scale":{"domain":["ストレート","スプリット","フォーク","カットボール","スライダー","ナックルカーブ","シンカー"],"range":["circle","M-1,-1L1,-1L0,1Z","M-1,-1L1,-1L0,1Z","M1,-1L1,1L-1,0Z","M1,-1L1,1L-1,0Z","M-0.78,-0.99L0.195,-0.018L0.486,-0.309L0.884,0.884L-0.309,0.486L-0.018,0.195L-0.99,-0.78Z","M0.78,-0.99L-0.195,-0.018L-0.486,-0.309L-0.884,0.884L0.309,0.486L0.018,0.195L0.99,-0.78Z"]},"legend":null}}},
     {"data":{"name":"ab5"},"mark":{"type":"text","font":"DejaVu Sans","fontSize":19,"fontWeight":"bold","color":"#0d1117"},"encoding":{"x":{"field":"x","type":"quantitative","scale":{"domain":[0,5],"nice":false,"zero":false},"axis":{"values":[1,2,3,4],"title":null}},"y":{"field":"y","type":"quantitative","scale":{"domain":[0,5],"nice":false,"zero":false},"axis":{"values":[1,2,3,4],"title":null}},"text":{"field":"n","type":"nominal"}}}
    ]},
    {"hconcat":[
     {"width":34,"height":141,"data":{"name":"t5"},"encoding":{"y":{"field":"r","type":"ordinal","axis":null,"scale":{"paddingInner":0,"paddingOuter":0}}},"layer":[{"mark":{"type":"rect","stroke":"#30363d","strokeWidth":1},"encoding":{"fill":{"condition":[{"test":"datum.r == 0","value":"#6cace4"},{"test":"datum.r % 2 == 1","value":"#1c2128"}],"value":"#161b22"}}},{"mark":{"type":"text","fontSize":9},"encoding":{"text":{"field":"no","type":"nominal"},"color":{"condition":{"test":"datum.r == 0","value":"#0d1117"},"value":"#c9d1d9"}}}]},
     {"width":71,"height":141,"data":{"name":"t5"},"encoding":{"y":{"field":"r","type":"ordinal","axis":null,"scale":{"paddingInner":0,"paddingOuter":0}}},"layer":[{"mark":{"type":"rect","stroke":"#30363d","strokeWidth":1},"encoding":{"fill":{"condition":[{"test":"datum.r == 0","value":"#6cace4"},{"test":"datum.r % 2 == 1","value":"#1c2128"}],"value":"#161b22"}}},{"mark":{"type":"text","fontSize":9},"encoding":{"text":{"field":"pitcher","type":"nominal"},"color":{"condition":{"test":"datum.r == 0","value":"#0d1117"},"value":"#c9d1d9"}}}]},
     {"width":35,"height":141,"data":{"name":"t5"},"encoding":{"y":{"field":"r","type":"ordinal","axis":null,"scale":{"paddingInner":0,"paddingOuter":0}}},"layer":[{"mark":{"type":"rect","stroke":"#30363d","strokeWidth":1},"encoding":{"fill":{"condition":[{"test":"datum.r == 0","value":"#6cace4"},{"test":"datum.r % 2 == 1","value":"#1c2128"}],"value":"#161b22"}}},{"mark":{"type":"text","fontSize":9},"encoding":{"text":{"field":"hand","type":"nominal"},"color":{"condition":{"test":"datum.r == 0","value":"#0d1117"},"value":"#c9d1d9"}}}]},
     {"width":84,"height":141,"data":{"name":"t5"},"encoding":{"y":{"field":"r","type":"ordinal","axis":null,"scale":{"paddingInner":0,"paddingOuter":0}}},"layer":[{"mark":{"type":"rect","stroke":"#30363d","strokeWidth":1},"encoding":{"fill":{"condition":[{"test":"datum.r == 0","value":"#6cace4"},{"test":"datum.r % 2 == 1","value":"#1c2128"}],"value":"#161b22"}}},{"mark":{"type":"text","fontSize":9},"encoding":{"text":{"field":"type","type":"nominal"},"color":{"condition":{"test":"datum.r == 0","value":"#0d1117"},"value":"#c9d1d9"}}}]},
     {"width":41,"height":141,"data":{"name":"t5"},"encoding":{"y":{"field":"r","type":"ordinal","axis":null,"scale":{"paddingInner":0,"paddingOuter":0}}},"layer":[{"mark":{"type":"rect","stroke":"#30363d","strokeWidth":1},"encoding":{"fill":{"condition":[{"test":"datum.r == 0","value":"#6cace4"},{"test":"datum.r % 2 == 1","value":"#1c2128"}],"value":"#161b22"}}},{"mark":{"type":"text","fontSize":9},"encoding":{"text":{"field":"speed","type":"nominal"},"color":{"condition":{"test":"datum.r == 0","value":"#0d1117"},"value":"#c9d1d9"}}}]},
     {"width":235,"height":141,"data":{"name":"t5"},"encoding":{"y":{"field":"r","type":"ordinal","axis":null,"scale":{"paddingInner":0,"paddingOuter":0}}},"layer":[{"mark":{"type":"rect","stroke":"#30363d","strokeWidth":1},"encoding":{"fill":{"condition":[{"test":"datum.r == 0","value":"#6cace4"},{"test":"datum.r % 2 == 1","value":"#1c2128"}],"value":"#161b22"}}},{"mark":{"type":"text","fontSize":9},"encoding":{"text":{"field":"result","type":"nominal"},"color":{"condition":{"test":"datum.r == 0","value":"#0d1117"},"value":"#c9d1d9"}}}]}
    ],"spacing":0,"bounds":"flush"}
   ],"spacing":164}
  ],"spacing":149.5}
 ],"spacing":130.5},
 {"width":1920,"height":64,"title":{"text":"#プロ野球","anchor":"end","orient":"top","offset":-26.5,"dx":-38,"fontSize":20,"fontWeight":"normal","color":"#7d8590"},"data":{"values":[{}]},"mark":{"type":"text"},"encoding":{"text":{"value":""}}}
]
}
